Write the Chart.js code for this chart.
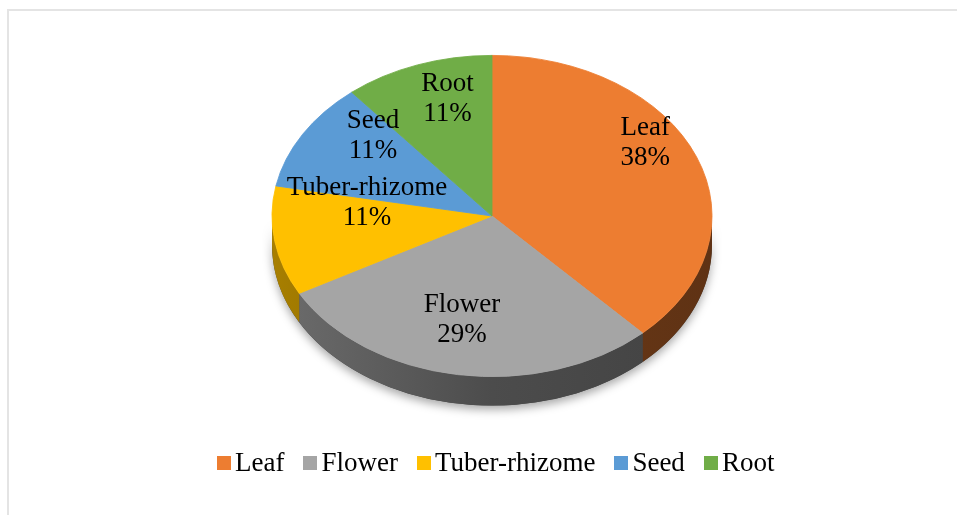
<!DOCTYPE html>
<html lang="en">
<head>
<meta charset="UTF-8">
<title>Plant parts used</title>
<script src="https://cdn.jsdelivr.net/npm/chart.js@4.4.1/dist/chart.umd.min.js"></script>
<style>
  html, body { margin: 0; padding: 0; background: #fff; }
  body { width: 957px; height: 515px; position: relative; overflow: hidden; font-family: "Liberation Serif", "Times New Roman", serif; }
  .frame { position: absolute; left: 7px; top: 9px; width: 960px; height: 520px; border-left: 2px solid #e4e4e4; border-top: 2px solid #e4e4e4; }
  #pie { position: absolute; left: 0; top: 0; }
  .legend { position: absolute; left: 217px; top: 447px; display: flex; align-items: center; font-size: 27px; color: #000; white-space: nowrap; }
  .legend .item { display: flex; align-items: center; margin-right: 19px; }
  .legend .box { width: 14px; height: 14px; margin-right: 4px; }
</style>
</head>
<body>
  <div class="frame"></div>
  <canvas id="pie" width="957" height="515"></canvas>
  <div class="legend" id="legend"></div>
<script>
  // data
  const categories = ['Leaf', 'Flower', 'Tuber-rhizome', 'Seed', 'Root'];
  const shares = [38, 29, 11, 11, 11];
  const colors = ['#ED7D31', '#A5A5A5', '#FFC000', '#5B9BD5', '#70AD47'];

  // 3d look
  const TILT = 0.73;     // vertical squash of the top face
  const DEPTH = 29;      // thickness of the side wall
  const PERSP = 0.19;    // fake perspective, only used to place the labels
  const APEX = 30;       // visual centre sits this far above the ellipse centre

  function shade(hex, k) {
    const n = parseInt(hex.slice(1), 16);
    const r = Math.round(((n >> 16) & 255) * k);
    const g = Math.round(((n >> 8) & 255) * k);
    const b = Math.round((n & 255) * k);
    return `rgb(${r},${g},${b})`;
  }

  const pie3d = {
    id: 'pie3d',
    beforeDatasetsDraw(chart) {
      const ctx = chart.ctx;
      const arcs = chart.getDatasetMeta(0).data;
      const cx = arcs[0].x, cy = arcs[0].y;
      const rx = arcs[0].outerRadius, ry = rx * TILT;

      // soft shadow under the wall
      ctx.save();
      ctx.shadowColor = 'rgba(0,0,0,0.35)';
      ctx.shadowBlur = 10;
      ctx.shadowOffsetY = 4;
      ctx.beginPath();
      ctx.ellipse(cx, cy + DEPTH, rx, ry, 0, 0, Math.PI);
      ctx.ellipse(cx, cy, rx, ry, 0, Math.PI, 0, true);
      ctx.closePath();
      ctx.fillStyle = '#444';
      ctx.fill();
      ctx.restore();

      // side wall, one piece per visible slice
      arcs.forEach((a, i) => {
        const s0 = a.startAngle, e0 = a.endAngle;
        [[0, Math.PI], [2 * Math.PI, 3 * Math.PI]].forEach(([lo, hi]) => {
          const s = Math.max(s0, lo), e = Math.min(e0, hi);
          if (e <= s) return;
          const grad = ctx.createLinearGradient(cx - rx, 0, cx + rx, 0);
          grad.addColorStop(0, shade(colors[i], 0.66));
          grad.addColorStop(0.5, shade(colors[i], 0.46));
          grad.addColorStop(1, shade(colors[i], 0.40));
          ctx.beginPath();
          ctx.ellipse(cx, cy, rx, ry, 0, s, e);
          ctx.ellipse(cx, cy + DEPTH, rx, ry, 0, e, s, true);
          ctx.closePath();
          ctx.fillStyle = grad;
          ctx.fill();
        });
      });

      // squash the pie itself into the top face
      ctx.save();
      ctx.translate(cx, cy);
      ctx.scale(1, TILT);
      ctx.translate(-cx, -cy);
    },
    afterDatasetsDraw(chart) {
      const ctx = chart.ctx;
      ctx.restore();
      const arcs = chart.getDatasetMeta(0).data;
      const cx = arcs[0].x, cy = arcs[0].y;
      const rx = arcs[0].outerRadius, ry = rx * TILT;
      const total = shares.reduce((p, c) => p + c, 0);

      ctx.save();
      ctx.font = '27px "Liberation Serif", "Times New Roman", serif';
      ctx.fillStyle = '#000';
      ctx.textAlign = 'center';
      ctx.textBaseline = 'middle';
      arcs.forEach((a, i) => {
        const frac = shares[i] / total;
        const f = 0.62 + 0.45 * frac; // bigger slices push the label further out
        const mid = (a.startAngle + a.endAngle) / 2;
        const u = Math.cos(mid) * f, v = Math.sin(mid) * f;
        const d = 1 - PERSP * v;
        let x = cx + rx * u / d;
        const y = cy - APEX + (ry - APEX) * (1 + PERSP) * v / d;
        const lines = [categories[i], Math.round(frac * 100) + '%'];
        const hw = Math.max(...lines.map(t => ctx.measureText(t).width)) / 2;
        const t = (y - cy) / ry;
        const lim = rx * Math.sqrt(Math.max(0, 1 - t * t)) - 14;
        x = Math.min(Math.max(x, cx - lim + hw), cx + lim - hw);
        ctx.fillText(lines[0], x, y - 15);
        ctx.fillText(lines[1], x, y + 15);
      });
      ctx.restore();
    }
  };

  new Chart(document.getElementById('pie'), {
    type: 'pie',
    data: {
      labels: categories,
      datasets: [{
        data: shares,
        backgroundColor: colors,
        borderColor: colors,
        borderWidth: 1,
        radius: 220,
        clip: false
      }]
    },
    options: {
      responsive: false,
      animation: false,
      events: [],
      layout: { padding: { left: 27, right: 0, top: 0, bottom: 83 } },
      plugins: {
        legend: { display: false },
        tooltip: { enabled: false }
      }
    },
    plugins: [pie3d]
  });

  // legend
  const legend = document.getElementById('legend');
  categories.forEach((c, i) => {
    const item = document.createElement('div');
    item.className = 'item';
    item.innerHTML = `<span class="box" style="background:${colors[i]}"></span><span>${c}</span>`;
    legend.appendChild(item);
  });
</script>
</body>
</html>
